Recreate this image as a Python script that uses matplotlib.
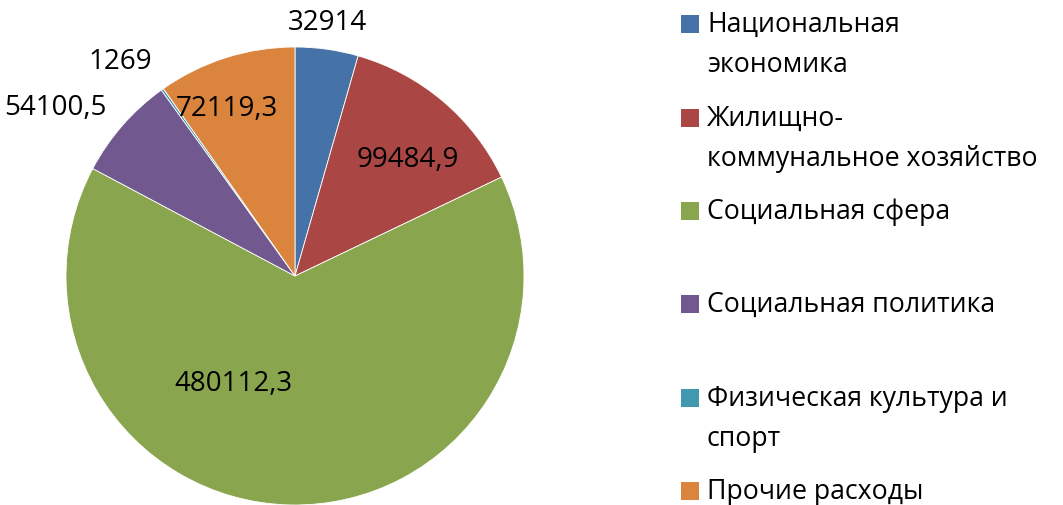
import numpy as np
import matplotlib
matplotlib.use("Agg")
import matplotlib.pyplot as plt
from matplotlib.patches import Rectangle

plt.rcParams['font.family'] = ['Open Sans', 'DejaVu Sans']

# данные
categories = ["Национальная\nэкономика", "Жилищно-\nкоммунальное хозяйство",
              "Социальная сфера", "Социальная политика",
              "Физическая культура и\nспорт", "Прочие расходы"]
values = [32914, 99484.9, 480112.3, 54100.5, 1269, 72119.3]
value_labels = ["32914", "99484,9", "480112,3", "54100,5", "1269", "72119,3"]
colors = ["#4572A7", "#AA4643", "#89A54E", "#71588F", "#4198AF", "#DB843D"]

# положение подписей: доля радиуса и сдвиг угла (град.)
label_r = [1.12, 0.71, 0.54, 1.28, 1.21, 0.79]
label_shift = [0.8, -3.8, -28.8, 6.0, 3.6, 4.5]

fig = plt.figure(figsize=(10.63, 5.06), dpi=100)
W, H = 1063, 506
cx, cy, r = 295, 277, 229
ax = fig.add_axes([(cx - r) / W, (H - cy - r) / H, 2 * r / W, 2 * r / H])
wedges, _ = ax.pie(values, colors=colors, startangle=90, counterclock=False,
                   radius=1, wedgeprops=dict(linewidth=0.6, edgecolor="white"))
ax.set_xlim(-1, 1)
ax.set_ylim(-1, 1)
ax.set_aspect("equal")
ax.axis("off")

for w, lab, lr, sh in zip(wedges, value_labels, label_r, label_shift):
    ang = np.deg2rad((w.theta1 + w.theta2) / 2 + sh)
    ax.text(lr * np.cos(ang), lr * np.sin(ang), lab, ha="center", va="center",
            fontsize=20, color="black", clip_on=False)

# легенда
leg_y = [25, 119, 212, 305, 399, 492]
for y, cat, col in zip(leg_y, categories, colors):
    fig.patches.append(Rectangle((681 / W, (H - y - 9) / H), 18 / W, 18 / H,
                                 transform=fig.transFigure, facecolor=col,
                                 edgecolor="none"))
    for i, line in enumerate(cat.split("\n")):
        fig.text(707 / W, (H - y - 7 - 40 * i) / H, line, ha="left",
                 va="baseline", fontsize=19.2, color="black")

fig.savefig("out.png", dpi=100)
